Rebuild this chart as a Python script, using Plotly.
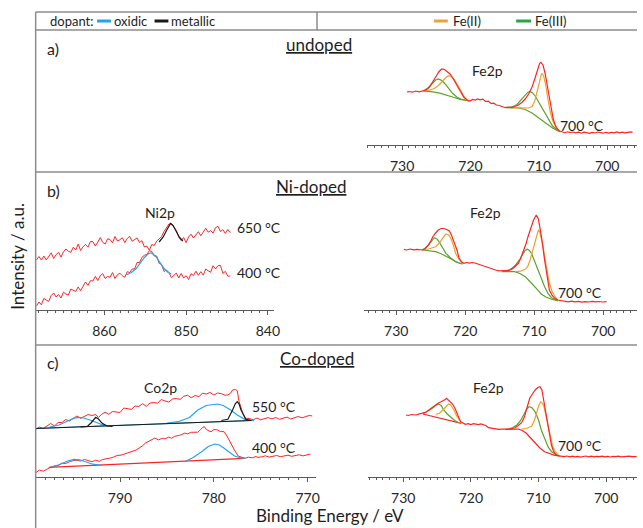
import plotly.graph_objects as go

# ---------------- DATA (binding energy in eV, intensity in a.u.) ----------------
# Panel a - undoped, Fe2p at 700 °C
fe_a_E = [729.3, 729.0, 728.5, 728.0, 727.5, 727.0, 726.5, 726.0, 725.5, 725.0, 724.6, 724.2, 723.8, 723.4, 723.0,
          722.5, 722.0, 721.5, 721.0, 720.5, 720.1, 719.7, 719.3, 719.0, 718.6, 718.2, 717.8, 717.4, 717.0, 716.6,
          716.2, 715.8, 715.4, 715.0, 714.5, 714.0, 713.5, 713.0, 712.5, 712.0, 711.5, 711.0, 710.6, 710.2, 709.9,
          709.7, 709.4, 709.1, 708.8, 708.5, 708.2, 707.9, 707.6, 707.3, 707.0, 706.6, 706.2, 705.8, 705.4, 705.0,
          704.6, 704.2, 703.8, 703.4, 703.0, 702.6, 702.2, 701.8, 701.4, 701.0, 700.6, 700.2, 699.8, 699.4, 699.0,
          698.6, 698.2, 697.8, 697.4, 697.0, 696.6, 696.3]
fe_a_I = [53, 53.5, 52.8, 54, 53.2, 54, 55, 58, 63, 69, 73.5, 76, 75.5, 73.5, 71,
          66, 60, 53, 48, 45, 44, 45.5, 44.8, 46, 45.2, 45.8, 43.5, 43.8, 41.5, 41.8,
          40, 39.5, 38.2, 37.5, 38, 37.4, 38.5, 40, 42.5, 46, 51, 58, 66, 76, 81.5,
          82.7, 80, 72, 60, 47, 35, 26, 20, 16, 14, 13, 12.3, 13.2, 12.5, 13,
          12.2, 12.8, 11.8, 12.9, 12.3, 11.6, 12.6, 12, 13, 12.2, 11.8, 12.7, 11.9, 12.6, 12.1,
          13, 12.2, 12.9, 12.1, 12.7, 13.2, 12.6]
fe_a_fe2_E1 = [726.9, 726.0, 725.3, 724.6, 724.0, 723.6, 723.2, 722.8, 722.3, 721.8, 721.3, 720.8, 720.3]
fe_a_fe2_I1 = [54, 54.8, 56.5, 60, 64.5, 67.5, 69.3, 68.5, 65, 59, 52, 47, 44]
fe_a_fe2_E2 = [714.0, 713.0, 712.0, 711.5, 711.0, 710.6, 710.2, 709.9, 709.6, 709.3, 709.0, 708.7, 708.3, 707.9, 707.5, 707.0]
fe_a_fe2_I2 = [37.3, 37, 36.5, 37, 38.5, 44, 55, 65, 71.7, 69, 60, 47, 32, 23, 17.5, 14]
fe_a_fe3_E1 = [726.9, 726.2, 725.6, 725.1, 724.7, 724.2, 723.7, 723.2, 722.6, 722.0, 721.4, 720.8]
fe_a_fe3_I1 = [54, 57, 61.5, 65, 66, 64.5, 61, 56.5, 51.5, 48, 46, 45]
fe_a_fe3_E2 = [714.5, 713.8, 713.2, 712.6, 712.0, 711.6, 711.3, 710.9, 710.5, 710.0, 709.5, 709.0, 708.5, 708.0, 707.5, 707.0]
fe_a_fe3_I2 = [37.5, 38.3, 40.5, 45, 50, 52.8, 53.3, 52, 48.5, 42.5, 36, 29.5, 23.5, 19, 16, 14]
fe_a_bg_E1 = [726.9, 725.5, 724.5, 723.5, 722.5, 721.5, 720.2]
fe_a_bg_I1 = [54, 53.2, 51.8, 50, 47.8, 45.6, 44]
fe_a_bg_E2 = [715.0, 714.0, 713.0, 712.0, 711.0, 710.0, 709.0, 708.0, 707.2, 706.8]
fe_a_bg_I2 = [37.3, 37.3, 37, 35.5, 32, 27, 22, 17, 14, 13.3]

# Panel b - Ni-doped, Fe2p at 700 °C
fe_b_E = [728.9, 728.5, 728.0, 727.5, 727.0, 726.5, 726.2, 725.8, 725.4, 725.0, 724.7, 724.3, 723.9, 723.5, 723.1,
          722.7, 722.3, 722.0, 721.6, 721.2, 720.9, 720.5, 720.2, 719.8, 719.4, 719.0, 718.6, 718.2, 717.8, 717.4,
          717.0, 716.6, 716.1, 715.6, 715.1, 714.7, 714.2, 713.8, 713.4, 713.0, 712.6, 712.3, 712.0, 711.6, 711.2,
          710.9, 710.5, 710.1, 709.7, 709.4, 709.2, 708.9, 708.5, 708.2, 707.8, 707.4, 707.0, 706.6, 706.1, 705.6,
          705.1, 704.6, 704.1, 703.6, 703.1, 702.6, 702.1, 701.6, 701.1, 700.6, 700.1, 699.5]
fe_b_I = [60.7, 60, 61, 60.2, 60.6, 59.8, 60, 61.5, 64.5, 69, 73.3, 77, 80, 81.5, 81.5,
          80.5, 79, 75, 68.3, 60, 52, 48, 46.7, 47.5, 46.8, 47.5, 47, 46, 45.5, 44.2,
          43.5, 42, 40.7, 40, 39.2, 39, 39.5, 39.4, 40.2, 42, 44.5, 46.7, 51, 58.3, 66,
          73.3, 82, 90, 95, 91, 83.3, 71, 50, 36, 20, 14.5, 11.7, 10, 9.3, 8.7,
          8.2, 8.9, 8.1, 8.6, 7.8, 8.4, 8.0, 8.7, 8.1, 8.5, 8.0, 8.3]
fe_b_fe2_E1 = [726.2, 725.3, 724.3, 723.7, 723.3, 722.8, 722.4, 722.1, 721.7, 721.4, 720.9, 720.4]
fe_b_fe2_I1 = [60, 61, 63.3, 67.5, 71.7, 76, 75, 71.7, 64.5, 56.7, 50.5, 46.7]
fe_b_fe2_E2 = [712.8, 712.0, 711.3, 710.9, 710.6, 710.2, 709.9, 709.6, 709.4, 709.2, 709.0, 708.7, 708.5, 708.1, 707.8, 707.4, 707.0, 706.6]
fe_b_fe2_I2 = [38.3, 38.8, 40.7, 44, 50, 60, 70, 77, 80, 78.5, 73.3, 63, 53.3, 38, 26.7, 18.5, 13.3, 10]
fe_b_fe3_E1 = [726.2, 725.6, 725.2, 724.8, 724.5, 724.1, 723.8, 723.3, 722.8, 722.2, 721.6, 721.0, 720.4]
fe_b_fe3_I1 = [60, 63, 66, 70, 72.3, 71, 68.3, 62.5, 56.7, 52.5, 49.3, 47.3, 46]
fe_b_fe3_E2 = [714.2, 713.5, 712.9, 712.5, 712.0, 711.6, 711.3, 711.0, 710.7, 710.4, 709.9, 709.4, 708.9, 708.5, 708.0, 707.5, 707.0, 706.6]
fe_b_fe3_I2 = [39, 40.5, 43.5, 46.7, 51.5, 56.7, 59.5, 60.7, 59.5, 56.7, 48.5, 40, 30.5, 23.3, 16.5, 12.3, 10.3, 9.3]
fe_b_bg_E1 = [726.2, 725.3, 724.3, 723.5, 722.8, 722.1, 721.4, 720.9, 720.4]
fe_b_bg_I1 = [60, 59.5, 58.3, 56.3, 54, 51.2, 48.3, 47, 46]
fe_b_bg_E2 = [714.7, 713.8, 712.8, 712.0, 711.3, 710.7, 710.1, 709.5, 709.0, 708.3, 707.5, 706.6]
fe_b_bg_I2 = [38.3, 38.3, 38.3, 36.3, 33.3, 29, 25, 20.2, 16, 13, 10.7, 9.3]

# Panel b - Ni2p (650 °C and 400 °C share one energy grid)
ni_E = [868.3, 868.0, 867.7, 867.4, 867.1, 866.8, 866.5, 866.2, 865.9, 865.6, 865.3, 865.0, 864.7, 864.4, 864.1,
        863.8, 863.5, 863.2, 862.9, 862.6, 862.3, 862.0, 861.7, 861.4, 861.1, 860.8, 860.5, 860.2, 859.9, 859.6,
        859.3, 859.0, 858.7, 858.4, 858.1, 857.8, 857.5, 857.2, 856.9, 856.6, 856.3, 856.0, 855.7, 855.4, 855.1,
        854.8, 854.5, 854.2, 853.9, 853.6, 853.3, 853.0, 852.7, 852.4, 852.1, 851.8, 851.5, 851.2, 850.9, 850.6,
        850.3, 850.0, 849.7, 849.4, 849.1, 848.8, 848.5, 848.2, 847.9, 847.6, 847.3, 847.0, 846.7, 846.4, 846.1,
        845.8, 845.5, 845.2, 844.9, 844.6]
ni_650_I = [50, 53.5, 50, 54, 50, 53.5, 57.2, 51.5, 55.3, 57.6, 52.9, 58.2, 61, 58.8, 57.6,
            62.8, 60, 65.8, 59.5, 63.3, 65.5, 62.8, 68.5, 68.3, 64, 67.8, 72.4, 67.7, 66, 71.2,
            70.4, 67.2, 73.5, 69, 70.2, 72.3, 67.4, 71.5, 73.6, 68.7, 70.7, 72.1, 67.5, 69.3, 63,
            64, 59.7, 65.5, 64.5, 69, 71, 73.5, 78.5, 82, 86, 86.5, 82.3, 79.5, 72.8, 69.5,
            72.5, 67.4, 73, 75.8, 72, 75, 78.3, 74.2, 78.6, 81.8, 77.9, 79.4, 76.9, 82.3, 83.7,
            78.5, 80.3, 76.6, 80.5, 77.3]
ni_400_I = [4, 8, 5.2, 11.6, 9.9, 8.7, 14.5, 17, 13, 15.5, 12, 17.9, 15.9, 15, 21,
            20, 18.5, 23.1, 19.2, 23.8, 28, 24.6, 29.3, 29, 33.7, 29.5, 34.3, 36.4, 31.5, 33.6,
            32.8, 37.4, 31.5, 35.3, 36.8, 34.3, 32.8, 38.3, 37.5, 41, 41, 47.5, 47.5, 52.7, 54.7,
            55.7, 59.2, 58.5, 54, 54, 46.8, 45.5, 38.5, 40, 37.5, 32.3, 34.8, 36.9, 32, 36.5,
            32, 34.3, 30.5, 36.3, 34.5, 38.8, 34.7, 38.3, 34.9, 41, 39.1, 37.8, 44.3, 41, 44.3,
            44.5, 36.6, 38.6, 33.8, 34]
ni_ox_E = [857.3, 856.7, 856.1, 855.6, 855.1, 854.6, 854.2, 853.7, 853.2, 852.7, 852.2, 851.8]
ni_ox_I = [35, 37.5, 41.5, 47, 52.5, 56.5, 57, 53.5, 47.5, 41.5, 37.5, 36]
ni_met_E = [853.3, 852.8, 852.4, 852.1, 851.9, 851.6, 851.2, 850.8, 850.4]
ni_met_I = [68, 73, 79.5, 84.5, 86.5, 84.5, 78.5, 72.5, 69]

# Panel c - Co-doped, Fe2p at 700 °C
fe_c_E = [729.6, 729.2, 728.8, 728.4, 728.1, 727.7, 727.4, 727.1, 726.6, 726.1, 725.7, 725.2, 724.8, 724.4, 724.0,
          723.8, 723.6, 723.3, 723.0, 722.7, 722.3, 722.0, 721.7, 721.5, 721.1, 720.8, 720.4, 720.0, 719.6, 719.3,
          718.9, 718.5, 718.1, 717.8, 717.4, 717.0, 716.5, 715.9, 715.4, 714.9, 714.4, 713.9, 713.5, 713.0, 712.5,
          712.1, 711.8, 711.5, 711.3, 711.0, 710.5, 710.1, 709.8, 709.5, 709.2, 708.8, 708.5, 708.1, 707.8, 707.4,
          707.0, 706.6, 706.2, 705.8, 705.4, 705.0, 704.6, 704.2, 703.8, 703.4, 703.0, 702.6, 702.2, 701.8, 701.4,
          701.0, 700.6, 700.2, 699.8, 699.4, 699.0, 698.6, 698.2, 697.8, 697.4, 697.0, 696.6, 696.2, 695.8, 695.5]
fe_c_I = [62, 61.5, 62.5, 61.8, 62, 62.8, 63.2, 63.7, 65, 67.5, 69.7, 72, 74, 75.3, 76.5,
          77.5, 78.7, 77, 75, 73, 68, 62, 58, 55.3, 53.5, 52.7, 53.3, 52.5, 53.4, 53,
          52.4, 53.1, 52, 51.5, 49.3, 48.8, 48.2, 47.7, 47.9, 47.5, 47.8, 48.3, 49.3, 51.5, 54.3,
          60, 67, 74, 78.7, 82, 87, 89.5, 90.3, 87, 76, 60.3, 47, 32, 26, 22,
          21.2, 21, 20.4, 21, 20.2, 20.8, 20.1, 20.6, 19.8, 20.5, 21, 20.2, 20.8, 20.1, 20.6,
          20.3, 20.9, 20.2, 20.7, 20.0, 20.6, 20.3, 20.8, 20.2, 20.6, 20.4, 20.9, 20.3, 20.6, 20.4]
fe_c_fe2_E1 = [725.2, 724.6, 724.0, 723.6, 723.3, 723.0, 722.5, 722.1, 721.8, 721.4]
fe_c_fe2_I1 = [62.5, 64, 68, 71.5, 73, 72, 67, 61, 57.7, 54.3]
fe_c_fe2_E2 = [712.5, 711.8, 711.0, 710.6, 710.3, 710.0, 709.7, 709.4, 709.2, 708.9, 708.6, 708.3, 707.9, 707.5, 707.1]
fe_c_fe2_I2 = [48, 48.5, 51, 57, 63.7, 71, 75.3, 73.5, 70.3, 61, 50.3, 40, 30.3, 25, 22]
fe_c_fe3_E1 = [727.1, 726.4, 725.7, 725.2, 724.8, 724.4, 724.0, 723.5, 723.0, 722.4, 721.8]
fe_c_fe3_I1 = [63, 65.5, 68.7, 71.5, 73, 71.5, 67, 63, 59.7, 56.5, 54.3]
fe_c_fe3_E2 = [714.4, 713.8, 713.2, 712.7, 712.2, 711.8, 711.4, 711.0, 710.5, 710.0, 709.6, 709.1, 708.6, 708.1, 707.6, 706.9]
fe_c_fe3_I2 = [48, 49.5, 52, 56, 62, 67.5, 70.3, 69.5, 65.3, 57, 47, 38.5, 30.3, 25.5, 23, 21.3]
fe_c_bg_E1 = [727.1, 726.2, 725.2, 724.2, 723.2, 722.3, 721.4]
fe_c_bg_I1 = [63, 61.5, 59.7, 58, 56.3, 55, 53.7]
fe_c_bg_E2 = [714.9, 714.0, 713.0, 712.4, 711.8, 711.1, 710.5, 709.8, 709.1, 708.3, 707.6, 706.9]
fe_c_bg_I2 = [47.7, 47.8, 48, 46.5, 43.7, 38.5, 33.7, 29, 25.3, 23, 21.7, 21]

# Panel c - Co2p
co_550_E = [799.0, 798.6, 798.2, 797.8, 797.4, 797.0, 796.6, 796.2, 795.8, 795.4, 795.0, 794.6, 794.2, 793.8, 793.4,
            793.0, 792.6, 792.3, 792.0, 791.6, 791.2, 790.8, 790.4, 790.0, 789.6, 789.2, 788.8, 788.4, 788.0, 787.6,
            787.2, 786.8, 786.4, 786.0, 785.6, 785.2, 784.8, 784.4, 784.0, 783.6, 783.2, 782.8, 782.4, 782.0, 781.6,
            781.2, 780.8, 780.4, 780.0, 779.6, 779.2, 778.8, 778.5, 778.2, 778.0, 777.7, 777.5, 777.3, 777.1, 776.9,
            776.6, 776.2, 775.8, 775.4, 775.0, 774.6, 774.2, 773.8, 773.4, 773.0, 772.6, 772.2, 771.8, 771.4, 771.0,
            770.6, 770.2, 769.8, 769.5]
co_550_I = [47.7, 50, 48.5, 51, 53.5, 51, 54.5, 54.5, 57.5, 56, 58.5, 61, 58.7, 60.3, 62.5,
            61.5, 62.5, 59.5, 62.5, 64.8, 62.7, 65.5, 65.3, 64.5, 69, 68.3, 67.6, 71, 70.5, 73.3,
            70.7, 74, 74.5, 73.8, 77.5, 76, 75, 78, 78.5, 77.6, 80.7, 81.8, 79.3, 81.5, 80.3,
            83.7, 83, 84.5, 82, 84, 83.3, 81.8, 82, 84, 87, 87.5, 86.3, 75.3, 68, 63.7,
            58.7, 58.5, 57.1, 59, 57.2, 58.6, 59.4, 58.1, 59.5, 57.7, 59, 59.9, 58, 59.5, 60.5,
            59.2, 60.6, 61.6, 61]
co_550_base_E = [799.0, 776.0]
co_550_base_I = [48.5, 56.5]
co_550_ox_E1 = [797.5, 796.5, 795.6, 794.9, 794.4, 793.9, 793.2, 792.6, 791.9, 791.4]
co_550_ox_I1 = [50, 52, 56, 58.8, 59.7, 59, 57, 54.5, 52.3, 51.5]
co_550_ox_E2 = [785.0, 783.8, 782.6, 781.7, 780.8, 780.1, 779.6, 779.0, 778.2, 777.5, 776.7, 775.7]
co_550_ox_I2 = [54, 55.3, 59.5, 67, 71.5, 72.8, 73, 71.5, 67, 62, 57.7, 56.3]
co_550_met_E1 = [794.2, 793.5, 793.1, 792.8, 792.6, 792.3, 791.9, 791.4, 790.8]
co_550_met_I1 = [50.2, 50.5, 54, 58, 59.7, 58, 53.7, 51, 50.5]
co_550_met_E2 = [779.2, 778.5, 778.0, 777.7, 777.5, 777.3, 777.1, 776.6, 776.0]
co_550_met_I2 = [56.5, 57.7, 67, 73.5, 75.3, 73, 67, 57.7, 56.5]

co_400_E = [799.0, 798.6, 798.2, 797.8, 797.4, 797.0, 796.6, 796.2, 795.8, 795.4, 795.0, 794.6, 794.2, 793.8, 793.4,
            793.0, 792.6, 792.2, 791.9, 791.5, 791.1, 790.7, 790.3, 789.9, 789.5, 789.1, 788.7, 788.3, 787.9, 787.6,
            787.3, 787.0, 786.6, 786.3, 785.9, 785.5, 785.2, 784.8, 784.5, 784.2, 783.8, 783.5, 783.1, 782.8, 782.4,
            782.0, 781.7, 781.4, 781.2, 781.0, 780.8, 780.5, 780.3, 780.0, 779.6, 779.3, 778.9, 778.6, 778.2, 777.8,
            777.4, 777.0, 776.7, 776.3, 775.9, 775.5, 775.3, 774.9, 774.5, 774.1, 773.7, 773.3, 772.9, 772.5, 772.1,
            771.7, 771.3, 770.9, 770.5, 770.1, 769.7]
co_400_I = [4.3, 6.9, 5.8, 7.9, 9.8, 10.9, 11.4, 13.9, 13.5, 15.2, 16.4, 16.8, 15.9, 17.6, 16.2,
            15.3, 16.8, 15.6, 17.4, 17.9, 18.8, 19.9, 21.6, 21.8, 22.9, 24.1, 25.8, 26.9, 29.4, 31.2,
            33.9, 35.4, 36.9, 38.9, 37.2, 38.6, 38.1, 39.9, 38.7, 40.6, 41.4, 42.1, 43.9, 43.2, 44.7,
            45.1, 44.8, 47.5, 49.5, 50.3, 47.5, 46, 45.3, 47.5, 47, 45.5, 45.3, 41, 33.7, 27,
            21, 19.5, 18.7, 19.8, 19.2, 20.5, 19.6, 20.1, 21.2, 19.9, 20.8, 21.5, 20.3, 20.9, 21.8,
            20.7, 21.4, 22.2, 21.1, 22.3, 23]
co_400_base_E = [797.6, 776.7]
co_400_base_I = [9.7, 18.7]
co_400_ox_E1 = [797.2, 796.4, 795.6, 794.9, 794.3, 793.7, 792.9, 791.9]
co_400_ox_I1 = [10.3, 12.5, 16, 17.7, 17.2, 15.3, 12.8, 11.5]
co_400_ox_E2 = [783.1, 782.2, 781.3, 780.6, 779.9, 779.4, 778.9, 778.3, 777.8, 777.2, 776.7]
co_400_ox_I2 = [15.3, 19.5, 25.3, 30.5, 33, 32, 28.7, 24, 21, 19.3, 18.7]

# tick label values
fe_ticks = [730, 720, 710, 700]
ni_ticks = [860, 850, 840]
co_ticks = [790, 780, 770]

# ---------------- STYLE ----------------
W, H = 643, 528
FONT = "Lato, Carlito, sans-serif"
RED = "rgb(255,35,35)"
ORANGE = "rgb(240,160,40)"
GREEN = "rgb(95,160,45)"
BLUE = "rgb(30,165,240)"
BLACK = "rgb(25,25,25)"
AXC = "rgb(90,90,90)"
BORDER = "rgb(140,140,140)"


def PX(x):
    return x / W


def PY(y):
    return 1 - y / H


fig = go.Figure()


def seg(e1, e2):
    return list(e1) + [None] + list(e2)


def add(xs, ys, color, ax, width=1.2):
    fig.add_trace(go.Scatter(x=xs, y=ys, mode="lines", line=dict(color=color, width=width),
                             connectgaps=False, xaxis="x" + ax, yaxis="y" + ax, hoverinfo="skip"))


# panel a (axis id "")
add(seg(fe_a_bg_E1, fe_a_bg_E2), seg(fe_a_bg_I1, fe_a_bg_I2), GREEN, "")
add(seg(fe_a_fe3_E1, fe_a_fe3_E2), seg(fe_a_fe3_I1, fe_a_fe3_I2), GREEN, "")
add(seg(fe_a_fe2_E1, fe_a_fe2_E2), seg(fe_a_fe2_I1, fe_a_fe2_I2), ORANGE, "")
add(fe_a_E, fe_a_I, RED, "")

# panel b Ni (2) and Fe (3)
add(ni_E, ni_650_I, RED, "2", 1.0)
add(ni_E, ni_400_I, RED, "2", 1.0)
add(ni_ox_E, ni_ox_I, BLUE, "2")
add(ni_met_E, ni_met_I, BLACK, "2")
add(seg(fe_b_bg_E1, fe_b_bg_E2), seg(fe_b_bg_I1, fe_b_bg_I2), GREEN, "3")
add(seg(fe_b_fe3_E1, fe_b_fe3_E2), seg(fe_b_fe3_I1, fe_b_fe3_I2), GREEN, "3")
add(seg(fe_b_fe2_E1, fe_b_fe2_E2), seg(fe_b_fe2_I1, fe_b_fe2_I2), ORANGE, "3")
add(fe_b_E, fe_b_I, RED, "3")

# panel c Co (4) and Fe (5)
add(co_550_E, co_550_I, RED, "4", 1.0)
add(co_550_base_E, co_550_base_I, BLUE, "4")
add(seg(co_550_ox_E1, co_550_ox_E2), seg(co_550_ox_I1, co_550_ox_I2), BLUE, "4")
add(co_550_base_E, co_550_base_I, BLACK, "4", 1.0)
add(seg(co_550_met_E1, co_550_met_E2), seg(co_550_met_I1, co_550_met_I2), BLACK, "4")
add(co_400_E, co_400_I, RED, "4", 1.0)
add(co_400_base_E, co_400_base_I, RED, "4")
add(seg(co_400_ox_E1, co_400_ox_E2), seg(co_400_ox_I1, co_400_ox_I2), BLUE, "4")
add(seg(fe_c_bg_E1, fe_c_bg_E2), seg(fe_c_bg_I1, fe_c_bg_I2), RED, "5")
add(seg(fe_c_fe3_E1, fe_c_fe3_E2), seg(fe_c_fe3_I1, fe_c_fe3_I2), GREEN, "5")
add(seg(fe_c_fe2_E1, fe_c_fe2_E2), seg(fe_c_fe2_I1, fe_c_fe2_I2), ORANGE, "5")
add(fe_c_E, fe_c_I, RED, "5")


def xax(x0, x1, rng, ticks, anchor):
    return dict(domain=[PX(x0), PX(x1)], range=rng, autorange=False, anchor=anchor,
                showline=True, linecolor=AXC, linewidth=1, mirror=False,
                ticks="outside", ticklen=4, tickwidth=1, tickcolor=AXC,
                tickvals=ticks, ticktext=[str(t) for t in ticks],
                minor=dict(ticks="outside", dtick=1, tick0=0, ticklen=2, tickwidth=1, tickcolor=AXC, showgrid=False),
                showgrid=False, zeroline=False, ticklabelstandoff=4,
                tickfont=dict(family=FONT, size=14, color="rgb(40,40,40)"))


def yax(bot, top, rng):
    return dict(domain=[PY(bot), PY(top)], range=rng, autorange=False, visible=False, fixedrange=True)


fig.update_layout(
    width=W, height=H, margin=dict(l=0, r=0, t=0, b=0),
    paper_bgcolor="white", plot_bgcolor="rgba(0,0,0,0)", showlegend=False,
    font=dict(family=FONT, color="rgb(30,30,30)"),
    xaxis=xax(370, 643, [735.2, 695.65], fe_ticks, "y"),
    yaxis=yax(145, 30, [0, 115]),
    xaxis2=xax(36, 277, [868.4, 839.2], ni_ticks, "y2"),
    yaxis2=yax(310, 172, [0, 138]),
    xaxis3=xax(367, 643, [734.74, 695.1], fe_ticks, "y3"),
    yaxis3=yax(310, 172, [0, 138]),
    xaxis4=xax(36, 319, [799.0, 769.1], co_ticks, "y4"),
    yaxis4=yax(477, 345, [0, 132]),
    xaxis5=xax(371, 643, [735.27, 695.45], fe_ticks, "y5"),
    yaxis5=yax(477, 345, [0, 132]),
)

# frame lines
shapes = []
def hline(y, x0, x1):
    shapes.append(dict(type="line", xref="paper", yref="paper", x0=PX(x0), x1=PX(x1), y0=PY(y), y1=PY(y),
                       line=dict(color=BORDER, width=1.5)))
def vline(x, y0, y1):
    shapes.append(dict(type="line", xref="paper", yref="paper", x0=PX(x), x1=PX(x), y0=PY(y0), y1=PY(y1),
                       line=dict(color=BORDER, width=1.5)))

hline(12, 36, 643)
hline(30, 36, 643)
hline(172, 36, 643)
hline(345, 36, 643)
vline(36, 12, 528)
vline(320, 12, 30)

# legend swatches
def swatch(x0, x1, color):
    shapes.append(dict(type="rect", xref="paper", yref="paper", x0=PX(x0), x1=PX(x1), y0=PY(22.5), y1=PY(19.5),
                       fillcolor=color, line=dict(width=0)))
swatch(98, 112, BLUE)
swatch(156, 170, BLACK)
swatch(438, 452, "rgb(232,165,58)")
swatch(521, 536, "rgb(40,165,65)")
fig.update_layout(shapes=shapes)

ann = []
def text(x, y, s, size=14, anchor="center", angle=0):
    ann.append(dict(x=PX(x), y=PY(y), xref="paper", yref="paper", text=s, showarrow=False,
                    xanchor=anchor, yanchor="middle", textangle=angle,
                    font=dict(family=FONT, size=size, color="rgb(30,30,30)")))

text(48, 21, "dopant:", 13, "left")
text(113, 21, "oxidic", 13, "left")
text(171, 21, "metallic", 13, "left")
text(455, 21, "Fe(II)", 13, "left")
text(538, 21, "Fe(III)", 13, "left")

text(45, 48, "a)", 16, "left")
text(45, 190, "b)", 16, "left")
text(45, 362, "c)", 16, "left")
text(322, 44, "<u>undoped</u>", 17)
text(314, 186, "<u>Ni-doped</u>", 17)
text(320, 358, "<u>Co-doped</u>", 17)

text(492, 70, "Fe2p", 14)
text(490, 213, "Fe2p", 14)
text(493, 387, "Fe2p", 14)
text(587, 125, "700 °C", 14)
text(585, 292, "700 °C", 14)
text(585, 445, "700 °C", 14)

text(162, 213, "Ni2p", 14)
text(261, 227, "650 °C", 14)
text(261, 272, "400 °C", 14)
text(162, 387, "Co2p", 14)
text(277, 406, "550 °C", 14)
text(277, 447, "400 °C", 14)

text(17, 256, "Intensity / a.u.", 17, angle=-90)
text(333, 515, "Binding Energy / eV", 17)

fig.update_layout(annotations=ann)
fig.write_html("out.html")
